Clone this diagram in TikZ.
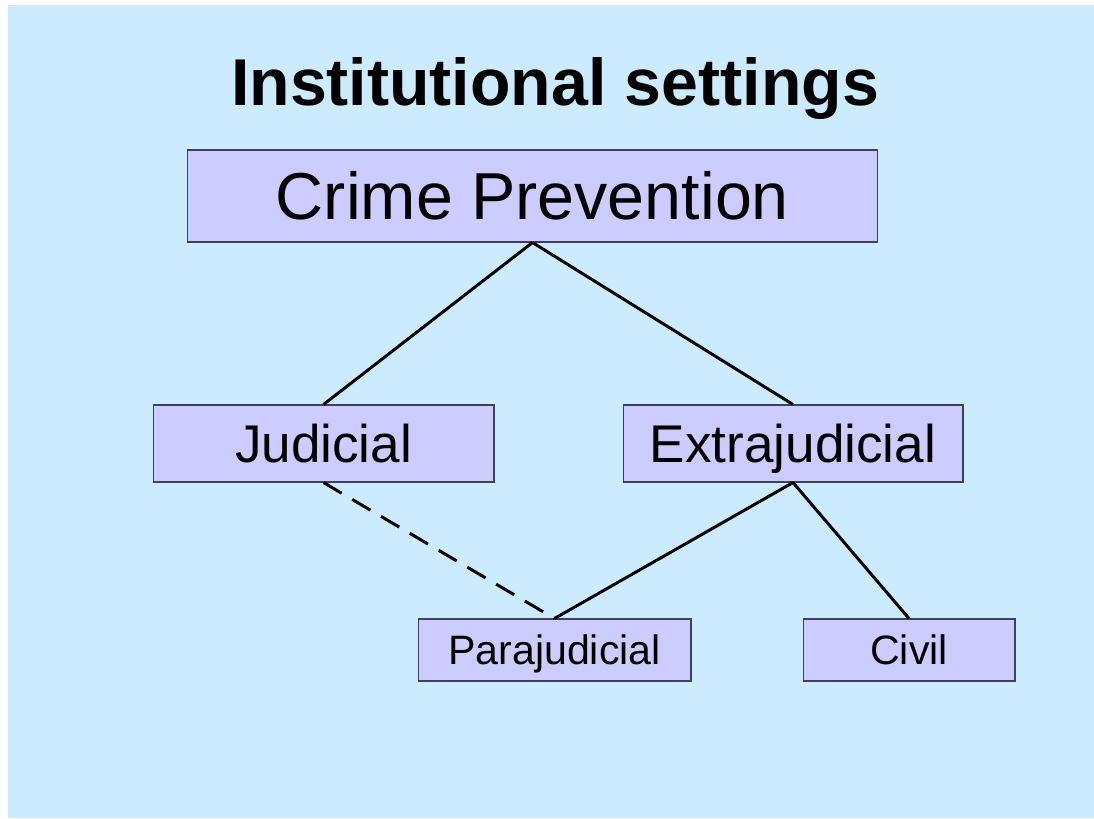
\documentclass[tikz,border=0pt]{standalone}
\usepackage{fontspec}
\setmainfont{Liberation Sans}
\definecolor{slidebg}{HTML}{CCEBFF}
\definecolor{boxfill}{HTML}{CCCCFF}
\definecolor{boxline}{HTML}{404058}
\tikzset{
  level/.style={draw=boxline,line width=0.6pt,fill=boxfill,inner sep=0pt,text depth=0pt},
  toplevel/.style={level,font=\fontsize{37.8}{40}\selectfont,text height=27.1pt},
  midlevel/.style={level,font=\fontsize{30.2}{32}\selectfont,text height=21.6pt,minimum height=1.54cm},
  lowlevel/.style={level,font=\fontsize{23.4}{25}\selectfont,text height=16.8pt,minimum height=1.24cm},
  link/.style={line width=1.7pt},
}
\begin{document}
\begin{tikzpicture}[x=0.02cm,y=-0.02cm]
		\useasboundingbox (0,0) rectangle (1094,818);
		\fill[white] (0,0) rectangle (1094,818);
		\fill[slidebg] (8,5) rectangle (1094,818);

		% title
		\node[anchor=base,font=\fontsize{37.7}{40}\selectfont\bfseries] (title) at (555,105) {Institutional settings};

		% boxes of the tree
		\node[toplevel,minimum width=13.82cm,minimum height=1.84cm] (crime) at (532.5,196) {Crime Prevention};
		\node[midlevel,minimum width=6.82cm] (judicial) at (323.5,443.5) {Judicial};
		\node[midlevel,minimum width=6.8cm] (extra) at (793,443.5) {Extrajudicial};
		\node[lowlevel,minimum width=5.46cm] (para) at (554.5,650) {Parajudicial};
		\node[lowlevel,minimum width=4.24cm] (civil) at (909,650) {Civil};

		% connectors
		\draw[link] (crime.south) -- (judicial.north);
		\draw[link] (crime.south) -- (extra.north);
		\draw[link,dash pattern=on 12pt off 7pt] (judicial.south) -- (para.north);
		\draw[link] (extra.south) -- (para.north);
		\draw[link] (extra.south) -- (civil.north);
	\end{tikzpicture}
\end{document}
